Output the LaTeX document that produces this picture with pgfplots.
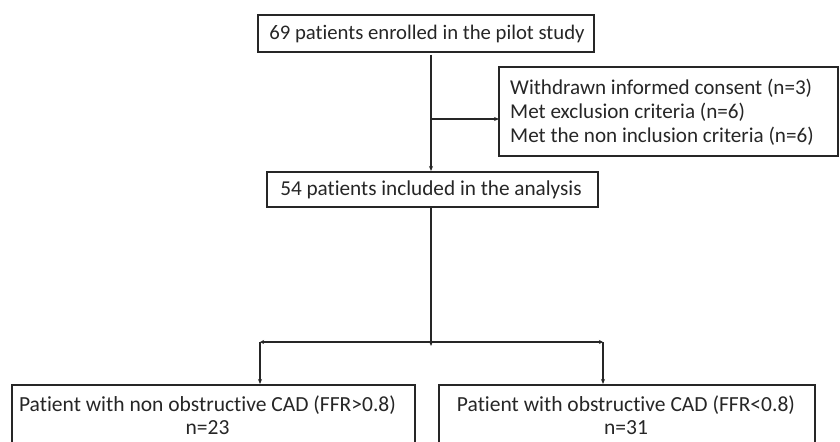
\documentclass[border=0pt]{standalone}
\usepackage{fontspec}
\setmainfont{Carlito}[Ligatures=NoCommon]
\usepackage{pgfplots}
\pgfplotsset{compat=1.18}
\usetikzlibrary{arrows.meta}
\begin{document}
\begin{tikzpicture}[x=1bp,y=1bp]
\begin{axis}[
  width=840bp, height=441bp, scale only axis,
  xmin=0, xmax=840, ymin=0, ymax=441, y dir=reverse,
  hide axis, clip=true,
]
\path (axis cs:0,0) rectangle (axis cs:840,441);
\tikzset{bx/.style={draw=black!85, line width=1.3bp},
         ln/.style={draw=black!85, line width=1.2bp},
         ar/.style={ln, -{Stealth[length=5bp,width=4bp]}},
         tx/.style={font=\fontsize{20.8}{24}\selectfont, text=black!85, inner sep=0},
         txb/.style={font=\fontsize{21.2}{24}\selectfont, text=black!85, inner sep=0},
         txc/.style={font=\fontsize{21.6}{24}\selectfont, text=black!85, inner sep=0}}
% box 1
\draw[bx] (axis cs:258,15) rectangle (axis cs:594,52);
\node[tx] at (axis cs:427,33.5) {69 patients enrolled in the pilot study};
% vertical line to box 2
\draw[ar] (axis cs:431,55) -- (axis cs:431,171);
% side arrow to box 3
\draw[ar] (axis cs:431,119) -- (axis cs:499,119);
% box 3
\draw[bx] (axis cs:499,67) rectangle (axis cs:838,156);
\node[txb, anchor=west] at (axis cs:510,88) {Withdrawn informed consent (n=3)};
\node[txb, anchor=west] at (axis cs:510,112) {Met exclusion criteria (n=6)};
\node[txb, anchor=west] at (axis cs:510,136) {Met the non inclusion criteria (n=6)};
% box 2
\draw[bx] (axis cs:267,172) rectangle (axis cs:598,207);
\node[font=\fontsize{21.3}{24}\selectfont, text=black!85, inner sep=0] at (axis cs:431,190) {54 patients included in the analysis};
% down line to split
\draw[ar] (axis cs:431,207) -- (axis cs:431,346);
\draw[ln, {Stealth[length=4bp,width=4bp]}-{Stealth[length=4bp,width=4bp]}] (axis cs:260,342) -- (axis cs:603,342);
\draw[ar] (axis cs:260,342) -- (axis cs:260,384);
\draw[ar] (axis cs:603,342) -- (axis cs:603,384);
% bottom boxes
\draw[bx] (axis cs:12,460) -- (axis cs:12,385) -- (axis cs:415,385) -- (axis cs:415,460);
\draw[bx] (axis cs:439,460) -- (axis cs:439,385) -- (axis cs:815,385) -- (axis cs:815,460);
\node[txc] at (axis cs:207.5,405) {Patient with non obstructive CAD (FFR>0.8)};
\node[txc] at (axis cs:207.5,428) {n=23};
\node[txc] at (axis cs:626,405) {Patient with obstructive CAD (FFR<0.8)};
\node[txc] at (axis cs:626,428) {n=31};
\end{axis}
\end{tikzpicture}
\end{document}
